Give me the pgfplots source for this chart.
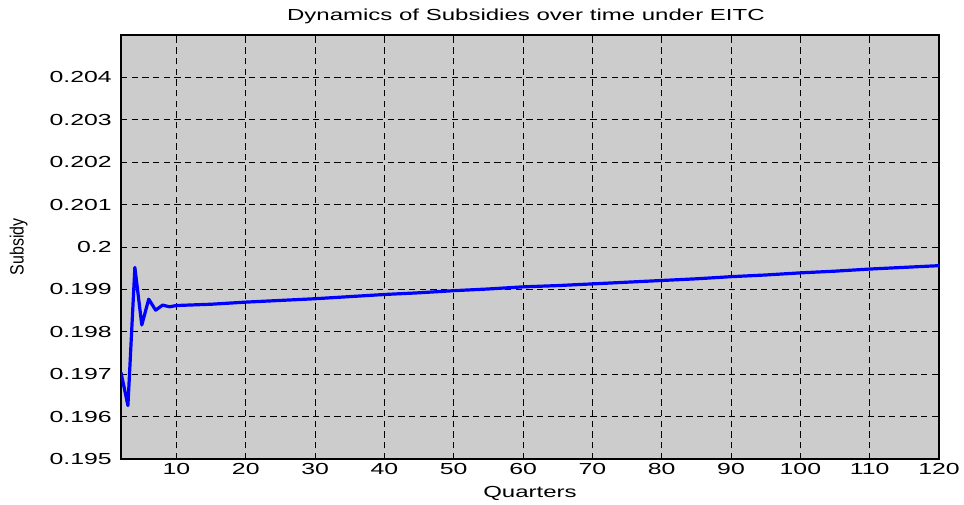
\documentclass[border=0pt]{standalone}
\usepackage{pgfplots}
\pgfplotsset{compat=1.18}
\usepackage{fontspec}
\setmainfont{Liberation Sans}
\definecolor{panel}{RGB}{204,204,204}
\newcommand{\lbl}{\fontsize{12}{14}\selectfont}

\begin{document}
\begin{tikzpicture}
\begin{axis}[
  scale only axis,
  width=613.5pt, height=318pt,
  at={(0,0)}, anchor=south west,
  xmin=2, xmax=120, ymin=0.195, ymax=0.205,
  xtick={10,20,...,120},
  ytick={0.195,0.196,0.197,0.198,0.199,0.2,0.201,0.202,0.203,0.204},
  scaled y ticks=false,
  /pgf/number format/assume math mode=true,
  yticklabel style={/pgf/number format/fixed, /pgf/number format/precision=3,
    font=\lbl, xscale=1.55, anchor=east, xshift=-1pt},
  xticklabel style={font=\lbl, xscale=1.55},
  axis background/.style={fill=panel},
  axis line style={black, line width=0.8pt},
  tick align=inside, major tick length=3.5pt,
  tick style={black, line width=0.6pt},
  grid=major,
  major grid style={black, line width=0.55pt, dash pattern=on 4.8pt off 3.2pt},
  title={Dynamics of Subsidies over time under EITC},
  title style={font=\lbl, xscale=1.5, at={(axis description cs:0.495,1.025)}, anchor=center},
  xlabel={Quarters},
  xlabel style={font=\lbl, xscale=1.5, at={(axis description cs:0.5,-0.082)}, anchor=center},
  ylabel={Subsidy},
  ylabel style={font=\lbl, at={(axis description cs:-0.125,0.5)}, anchor=center, xscale=1.0, yscale=1.2},
]
\addplot[blue, line width=2.4pt, line join=round] coordinates {
  (2,0.19704) (3,0.19626) (4,0.19952) (5,0.19816) (6,0.19877)
  (7,0.19851) (8,0.19863) (9,0.19859) (10,0.19862) (15,0.19865)
  (20,0.19870) (25,0.19874) (30,0.19878) (35,0.19883) (40,0.19888)
  (45,0.19892) (50,0.19897) (55,0.19901) (60,0.19906) (65,0.19909)
  (70,0.19913) (75,0.19917) (80,0.19921) (85,0.19925) (90,0.19930)
  (95,0.19934) (100,0.19939) (105,0.19943) (110,0.19948) (115,0.19952)
  (120,0.19956)
};
\end{axis}
\pgfresetboundingbox
\useasboundingbox (-90.75pt,-33.75pt) rectangle (632.25pt,344.25pt);
\end{tikzpicture}
\end{document}
